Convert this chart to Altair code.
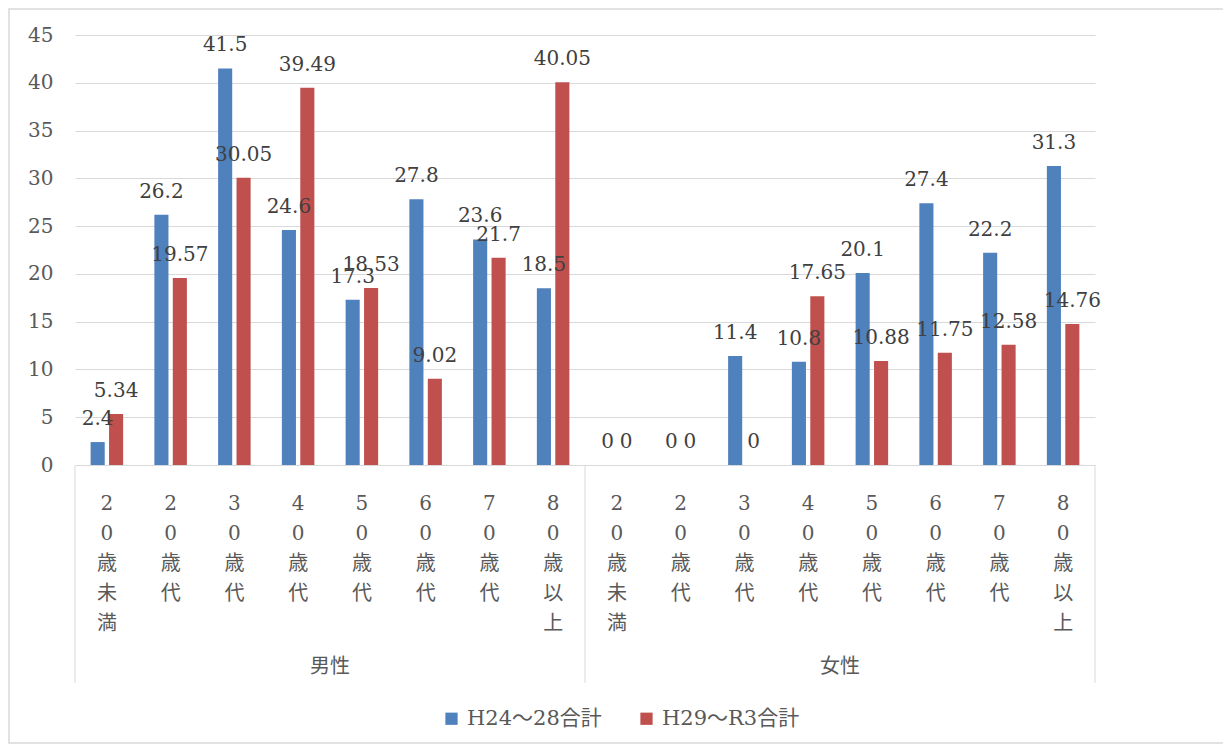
import altair as alt
import pandas as pd

genders = ["男性", "女性"]
ages = ["20歳未満", "20歳代", "30歳代", "40歳代", "50歳代", "60歳代", "70歳代", "80歳以上"]
series_names = ["H24～28合計", "H29～R3合計"]

male_h24 = [2.4, 26.2, 41.5, 24.6, 17.3, 27.8, 23.6, 18.5]
male_h29 = [5.34, 19.57, 30.05, 39.49, 18.53, 9.02, 21.7, 40.05]
female_h24 = [0, 0, 11.4, 10.8, 20.1, 27.4, 22.2, 31.3]
female_h29 = [0, 0, 0, 17.65, 10.88, 11.75, 12.58, 14.76]

y_ticks = [0, 5, 10, 15, 20, 25, 30, 35, 40, 45]

FONT = "DejaVu Serif, 'Noto Sans CJK JP'"
BLUE = "#4F81BD"
RED = "#C0504D"

values_by = {
    ("男性", series_names[0]): male_h24,
    ("男性", series_names[1]): male_h29,
    ("女性", series_names[0]): female_h24,
    ("女性", series_names[1]): female_h29,
}

rows = []
keys = []
cat_rows = []
for g in genders:
    for i, a in enumerate(ages):
        k = f"{g}|{a}"
        keys.append(k)
        cat_rows.append({"key": k, "label": "\n".join(list(a))})
        for s in series_names:
            v = values_by[(g, s)][i]
            rows.append({"key": k, "gender": g, "age": a, "series": s,
                         "value": v, "text": str(v)})

df = pd.DataFrame(rows)
cats = pd.DataFrame(cat_rows)
grp = pd.DataFrame({"gender": genders, "px": [255, 765]})

W, H = 1020, 430

x_enc = alt.X("key:N", sort=keys, axis=None,
              scale=alt.Scale(paddingInner=0.49, paddingOuter=0.245))
xo_enc = alt.XOffset("series:N", sort=series_names,
                     scale=alt.Scale(paddingInner=0.235))

base = alt.Chart(df)

bars = base.mark_bar().encode(
    x=x_enc,
    xOffset=xo_enc,
    y=alt.Y("value:Q", scale=alt.Scale(domain=[0, 45]),
            axis=alt.Axis(values=y_ticks, grid=True, gridColor="#d9d9d9",
                          gridWidth=1, domain=False, ticks=False,
                          labelPadding=22, labelFontSize=20, labelColor="#595959",
                          labelFont=FONT, title=None)),
    color=alt.Color("series:N", sort=series_names,
                    scale=alt.Scale(domain=series_names, range=[BLUE, RED]),
                    legend=alt.Legend(title=None, orient="none", legendX=366,
                                      legendY=673, direction="horizontal",
                                      symbolType="square", symbolSize=150,
                                      symbolStrokeWidth=0, labelFontSize=21,
                                      labelFont=FONT, labelColor="#595959",
                                      labelOffset=5, columnPadding=34, padding=0)),
)

labels = base.mark_text(baseline="alphabetic", dy=-17, fontSize=20, font=FONT,
                        color="#404040").encode(
    x=x_enc,
    xOffset=xo_enc,
    y=alt.Y("value:Q"),
    text=alt.Text("text:N"),
)

cat_text = alt.Chart(cats).mark_text(lineBreak="\n", baseline="top", lineHeight=30,
                                     fontSize=20, font=FONT, color="#595959").encode(
    x=alt.X("key:N", sort=keys, axis=None),
    y=alt.value(459),
    text="label:N",
)

grp_text = alt.Chart(grp).mark_text(baseline="middle", fontSize=20, font=FONT,
                                    color="#595959").encode(
    x=alt.X("px:Q", scale=None),
    y=alt.value(632),
    text="gender:N",
)

sep = alt.Chart(pd.DataFrame({"px": [0, W / 2, W]})).mark_rule(
    color="#d9d9d9", strokeWidth=1).encode(
    x=alt.X("px:Q", scale=None),
    y=alt.value(H),
    y2=alt.value(648),
)

frame = alt.Chart(pd.DataFrame({"a": [0]})).mark_rect(
    fill=None, stroke="#d9d9d9", strokeWidth=1.5).encode(
    x=alt.value(-66), x2=alt.value(1152),
    y=alt.value(-26), y2=alt.value(708),
)

chart = alt.layer(frame, sep, bars, labels, cat_text, grp_text).resolve_scale(
    x="shared"
).properties(
    width=W, height=H,
    autosize=alt.AutoSizeParams(type="none"),
    padding={"left": 67, "top": 27, "right": 128, "bottom": 280},
).configure_view(stroke=None)

chart.save("out.html", embed_options={"renderer": "svg", "actions": False})
